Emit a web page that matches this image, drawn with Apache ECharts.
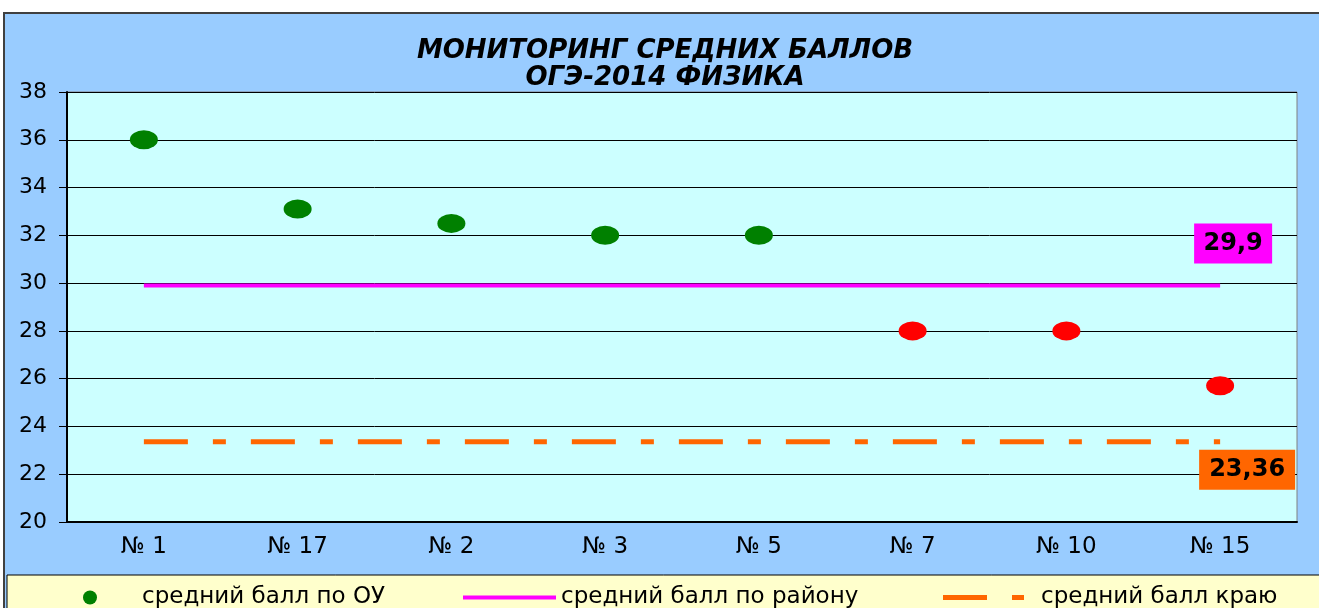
<!DOCTYPE html>
<html>
<head>
<meta charset="utf-8">
<script src="https://cdn.jsdelivr.net/npm/echarts@6/dist/echarts.min.js"></script>
<style>
  html, body { margin: 0; padding: 0; background: #ffffff; }
  #chart { width: 1319px; height: 608px; }
</style>
</head>
<body>
<div id="chart"></div>
<script>
var schools = ['№ 1', '№ 17', '№ 2', '№ 3', '№ 5', '№ 7', '№ 10', '№ 15'];
var schoolScores = [36, 33.1, 32.5, 32, 32, 28, 28, 25.7];
var districtAvg = 29.9;
var regionAvg = 23.36;
var seriesNames = ['средний балл по ОУ', 'средний балл по району', 'средний балл краю'];

var chart = echarts.init(document.getElementById('chart'));

var baseFont = 'DejaVu Sans';

// точки: выше среднего по району - зеленые, ниже - красные
var pointData = [];
for (var i in schoolScores) {
    pointData.push({
        value: schoolScores[i],
        itemStyle: { color: schoolScores[i] >= districtAvg ? '#008000' : '#FF0000', opacity: 1 }
    });
}

// горизонтальная линия через все категории
function flatLine(val) {
    var arr = [];
    for (var i = 0; i < schools.length; i++) {
        arr.push(val);
    }
    return arr;
}

// подпись-плашка у правого конца линии
function valueBox(val, text, boxColor, w, offset) {
    return {
        symbol: 'rect',
        symbolSize: 0,
        data: [{
            coord: [schools[schools.length - 1], val],
            label: {
                show: true,
                formatter: text,
                backgroundColor: boxColor,
                color: '#000',
                fontFamily: baseFont,
                fontWeight: 'bold',
                fontSize: 24,
                width: w,
                height: 40,
                lineHeight: 40,
                align: 'center',
                verticalAlign: 'middle',
                padding: 0,
                position: 'inside',
                offset: offset
            }
        }]
    };
}

var legendText = { fontFamily: baseFont, fontSize: 23, color: '#000' };

chart.setOption({
    animation: false,
    backgroundColor: '#ffffff',
    graphic: [
        {
            type: 'rect',
            z: -10,
            shape: { x: 4, y: 13, width: 1330, height: 610 },
            style: { fill: '#99CCFF', stroke: '#404040', lineWidth: 2 }
        },
        {
            type: 'rect',
            z: -5,
            shape: { x: 7, y: 575, width: 1330, height: 40 },
            style: { fill: '#FFFFCC', stroke: '#000000', lineWidth: 1 }
        }
    ],
    title: {
        text: 'МОНИТОРИНГ СРЕДНИХ БАЛЛОВ\nОГЭ-2014 ФИЗИКА',
        left: 660,
        textAlign: 'center',
        top: 33,
        textStyle: {
            fontFamily: baseFont,
            fontStyle: 'italic',
            fontWeight: 'bold',
            fontSize: 26,
            lineHeight: 27,
            color: '#000'
        }
    },
    legend: [
        {
            data: [{ name: seriesNames[0], icon: 'circle' }],
            left: 78, top: 581,
            itemWidth: 14, itemHeight: 14,
            textStyle: { fontFamily: baseFont, fontSize: 23, color: '#000', padding: [0, 0, 0, 40] }
        },
        {
            data: [{ name: seriesNames[1], icon: 'rect' }],
            left: 458, top: 581,
            itemWidth: 93, itemHeight: 4,
            textStyle: legendText
        },
        {
            data: [{ name: seriesNames[2], icon: 'path://M0,0h44v5h-44z M69,0h12v5h-12z' }],
            left: 938, top: 581,
            itemWidth: 81, itemHeight: 5,
            textStyle: { fontFamily: baseFont, fontSize: 23, color: '#000', padding: [0, 0, 0, 12] }
        }
    ],
    grid: { left: 67, right: 22, top: 92, bottom: 86, show: true, backgroundColor: '#CCFFFF', borderColor: '#808080', borderWidth: 1 },
    xAxis: {
        type: 'category',
        data: schools,
        boundaryGap: true,
        axisLine: { lineStyle: { color: '#000', width: 2 } },
        axisTick: { length: 6, lineStyle: { color: '#000' } },
        axisLabel: { fontFamily: baseFont, fontSize: 23, color: '#000', margin: 14 }
    },
    yAxis: {
        type: 'value',
        min: 20,
        max: 38,
        interval: 2,
        axisLine: { show: true, lineStyle: { color: '#000', width: 2 } },
        axisTick: { show: true, length: 8, lineStyle: { color: '#000' } },
        axisLabel: { fontFamily: baseFont, fontSize: 22, color: '#000', margin: 20 },
        splitLine: { lineStyle: { color: '#000', width: 1 } }
    },
    series: [
        {
            name: seriesNames[0],
            type: 'scatter',
            symbol: 'circle',
            symbolSize: [28, 19],
            itemStyle: { color: '#008000', opacity: 1 },
            data: pointData,
            z: 5
        },
        {
            name: seriesNames[1],
            type: 'line',
            symbol: 'none',
            lineStyle: { color: '#FF00FF', width: 4 },
            itemStyle: { color: '#FF00FF' },
            data: flatLine(districtAvg),
            markPoint: valueBox(districtAvg, '29,9', '#FF00FF', 78, [13, -42])
        },
        {
            name: seriesNames[2],
            type: 'line',
            symbol: 'none',
            lineStyle: { color: '#FF6600', width: 5, type: [44, 25, 13, 25] },
            itemStyle: { color: '#FF6600' },
            data: flatLine(regionAvg),
            markPoint: valueBox(regionAvg, '23,36', '#FF6600', 96, [27, 28])
        }
    ]
});
</script>
</body>
</html>
